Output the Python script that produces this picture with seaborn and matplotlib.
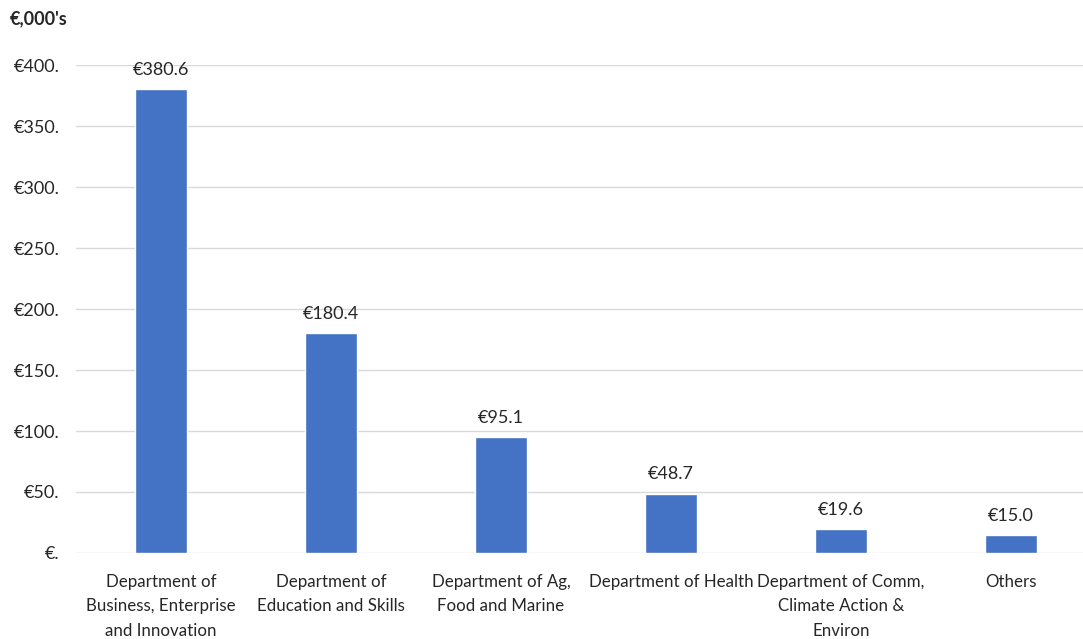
import matplotlib
matplotlib.use("Agg")
import matplotlib.pyplot as plt
import seaborn as sns
import pandas as pd

departments = [
    "Department of\nBusiness, Enterprise\nand Innovation",
    "Department of\nEducation and Skills",
    "Department of Ag,\nFood and Marine",
    "Department of Health",
    "Department of Comm,\nClimate Action &\nEnviron",
    "Others",
]
amounts = [380.6, 180.4, 95.1, 48.7, 19.6, 15.0]
y_ticks = [0, 50, 100, 150, 200, 250, 300, 350, 400]
y_tick_labels = ["€.", "€50.", "€100.", "€150.", "€200.", "€250.", "€300.", "€350.", "€400."]


def main():
    sns.set_style("white")
    plt.rcParams["font.family"] = ["Lato", "DejaVu Sans"]
    df = pd.DataFrame({"dept": departments, "amount": amounts})

    fig = plt.figure(figsize=(10.83, 6.39), dpi=100)
    ax = fig.add_axes([0.0702, 0.1346, 0.9298, 0.7636])
    sns.barplot(ax=ax, data=df, x="dept", y="amount", color="#4472C4",
                saturation=1, width=0.31, zorder=3)

    for i, v in enumerate(amounts):
        ax.annotate(f"€{v:.1f}", (i, v), xytext=(0, 8), textcoords="offset points",
                    ha="center", va="bottom", fontsize=13, color="#262626")

    ax.set_ylim(0, 400)
    ax.set_xlim(-0.5, 5.424)
    ax.set_yticks(y_ticks)
    ax.set_yticklabels(y_tick_labels, fontsize=13)
    ax.tick_params(axis="x", labelsize=12.2, length=0, pad=15)
    for lbl in ax.get_xticklabels():
        lbl.set_linespacing(1.65)
    ax.tick_params(axis="y", length=0, pad=12)
    ax.grid(axis="y", color="#d9d9d9", linewidth=1, zorder=0)
    ax.set_xlabel("")
    ax.set_ylabel("")
    for s in ax.spines.values():
        s.set_visible(False)
    fig.text(0.009, 0.97, "€,000's", fontsize=13, fontweight="bold", va="center", ha="left")

    fig.savefig("out.png", dpi=100)


if __name__ == "__main__":
    main()
